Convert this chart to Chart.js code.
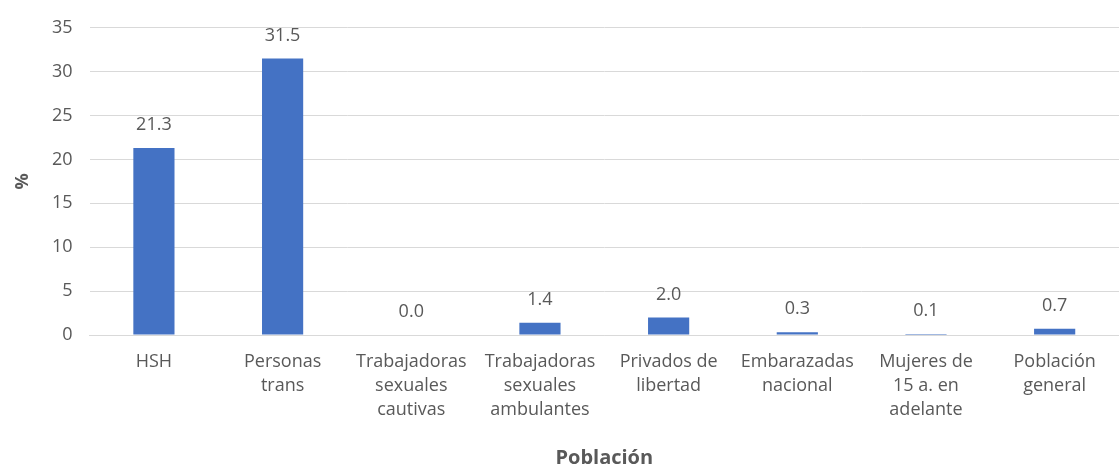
<!DOCTYPE html>
<html>
<head>
<meta charset="utf-8">
<script src="https://cdn.jsdelivr.net/npm/chart.js@4.4.0/dist/chart.umd.min.js"></script>
<style>
  html, body { margin: 0; padding: 0; background: #fff; }
  #wrap { width: 1119px; height: 470px; }
</style>
</head>
<body>
<div id="wrap"><canvas id="bars"></canvas></div>
<script>
const categories = [
    ['HSH'],
    ['Personas', 'trans'],
    ['Trabajadoras', 'sexuales', 'cautivas'],
    ['Trabajadoras', 'sexuales', 'ambulantes'],
    ['Privados de', 'libertad'],
    ['Embarazadas', 'nacional'],
    ['Mujeres de', '15 a. en', 'adelante'],
    ['Población', 'general']
];
const prevalence = [21.3, 31.5, 0.0, 1.4, 2.0, 0.3, 0.1, 0.7];
const yTicks = [0, 5, 10, 15, 20, 25, 30, 35];

const FONT = '"Open Sans", sans-serif';
const GREY = '#595959';

// etiquetas de valor encima de cada barra
const valueLabels = {
    id: 'valueLabels',
    afterDatasetsDraw(chart) {
        const ctx = chart.ctx;
        const meta = chart.getDatasetMeta(0);
        ctx.save();
        ctx.font = '18px ' + FONT;
        ctx.fillStyle = GREY;
        ctx.textAlign = 'center';
        ctx.textBaseline = 'middle';
        meta.data.forEach((bar, i) => {
            ctx.fillText(prevalence[i].toFixed(1), bar.x, bar.y - 23);
        });
        ctx.restore();
    }
};

const ctx = document.getElementById('bars').getContext('2d');
new Chart(ctx, {
    type: 'bar',
    data: {
        labels: categories,
        datasets: [{
            data: prevalence,
            backgroundColor: '#4472c4',
            barPercentage: 0.32,
            categoryPercentage: 1.0
        }]
    },
    options: {
        responsive: true,
        maintainAspectRatio: false,
        animation: false,
        layout: { padding: { top: 5, right: 0, left: 5, bottom: 0 } },
        plugins: {
            legend: { display: false },
            tooltip: { enabled: false }
        },
        scales: {
            x: {
                grid: { display: false, drawTicks: false },
                border: { color: '#d9d9d9' },
                ticks: {
                    color: GREY,
                    font: { family: FONT, size: 18, lineHeight: '24px' },
                    maxRotation: 0,
                    autoSkip: false,
                    padding: 15
                },
                title: {
                    display: true,
                    text: 'Población',
                    color: GREY,
                    font: { family: FONT, size: 20, weight: 'bold', lineHeight: '24px' },
                    padding: { top: 9, bottom: 0 }
                }
            },
            y: {
                min: 0,
                max: 35,
                afterBuildTicks(axis) {
                    axis.ticks = yTicks.map(v => ({ value: v }));
                },
                grid: { color: '#d9d9d9', drawTicks: false },
                border: { display: false },
                ticks: {
                    color: GREY,
                    font: { family: FONT, size: 18 },
                    padding: 17
                },
                title: {
                    display: true,
                    text: '%',
                    color: GREY,
                    font: { family: FONT, size: 18, weight: 'bold', lineHeight: '24px' },
                    padding: { top: 6, bottom: 0 }
                }
            }
        }
    },
    plugins: [valueLabels]
});
</script>
</body>
</html>
